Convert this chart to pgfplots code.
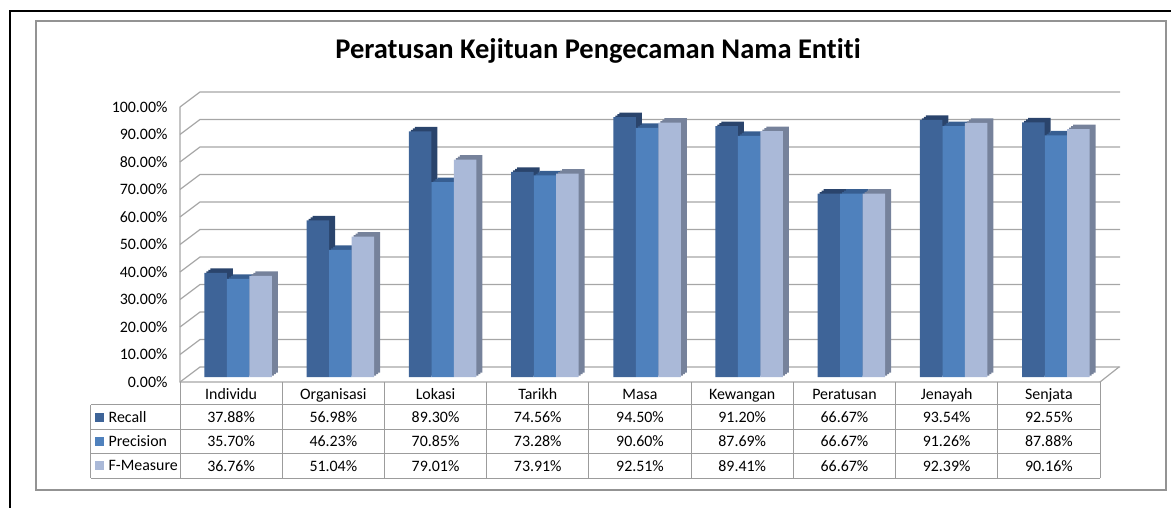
\documentclass[border=0pt]{standalone}
\usepackage{fontspec}
\setmainfont{Carlito}[Ligatures=NoCommon]
\usepackage{pgfplots}
\usepackage{pgfplotstable}
\pgfplotsset{compat=1.18}
\definecolor{recF}{HTML}{3E6498}
\definecolor{recS}{HTML}{2A446C}
\definecolor{preF}{HTML}{4F81BD}
\definecolor{preS}{HTML}{375E91}
\definecolor{fmF}{HTML}{AAB9D8}
\definecolor{fmS}{HTML}{76829B}
\definecolor{gridc}{HTML}{A6A6A6}
\definecolor{tablec}{HTML}{9C9C9C}
\newcommand\tf{\fontsize{15.9}{18}\selectfont}

\pgfplotstableread{
cat R P F
Individu 37.88 35.70 36.76
Organisasi 56.98 46.23 51.04
Lokasi 89.30 70.85 79.01
Tarikh 74.56 73.28 73.91
Masa 94.50 90.60 92.51
Kewangan 91.20 87.69 89.41
Peratusan 66.67 66.67 66.67
Jenayah 93.54 91.26 92.39
Senjata 92.55 87.88 90.16
}\data

\newcommand\threedbar[4]{%
 \addplot[ybar, bar width=22.5pt, bar shift=#2, draw=none, fill=#3, xshift=13pt, yshift=9.5pt] table[x expr=\coordindex+0.5, y=#1]{\data};
 \addplot[ybar, bar width=22.5pt, bar shift=#2, draw=none, fill=#3, xshift=11pt, yshift=8pt] table[x expr=\coordindex+0.5, y=#1]{\data};
 \addplot[ybar, bar width=22.5pt, bar shift=#2, draw=none, fill=#3, xshift=9pt, yshift=6.5pt] table[x expr=\coordindex+0.5, y=#1]{\data};
 \addplot[ybar, bar width=22.5pt, bar shift=#2, draw=none, fill=#4, xshift=7pt, yshift=5pt] table[x expr=\coordindex+0.5, y=#1]{\data};
}
\newcommand\valrow[2]{%
 \addplot[draw=none, mark=none, point meta=explicit symbolic,
   nodes near coords={\pgfplotspointmeta\%},
   nodes near coords style={anchor=center, font=\tf, inner sep=0pt}]
   table[x expr=\coordindex+0.5, y expr=#2, meta=#1]{\data};
}

\begin{document}
\begin{tikzpicture}
\useasboundingbox (0pt,0pt) rectangle (1171pt,507pt);
\draw[line width=2pt] (10pt,-5pt) -- (10pt,496pt) -- (1180pt,496pt);
\draw[gray!85, line width=1.3pt] (36pt,17pt) rectangle (1166pt,486pt);
\node[font=\fontsize{28.5}{31}\selectfont\bfseries] at (598pt,456pt) {Peratusan Kejituan Pengecaman Nama Entiti};
\begin{axis}[at={(180pt,125pt)}, anchor=south west, scale only axis,
  width=920pt, height=275pt, xmin=0, xmax=9, ymin=0, ymax=100, clip=false,
  axis line style={draw=none}, tick style={draw=none},
  ytick={0,10,...,100}, xtick={0.5,1.5,...,8.5},
  xticklabels from table={\data}{cat},
  /pgf/number format/assume math mode=true,
  yticklabel={\pgfmathprintnumber[fixed,zerofill,precision=2]{\tick}\%},
  tick label style={font=\tf},
  yticklabel style={xshift=-9pt},
  xticklabel style={anchor=base, yshift=-17pt, inner sep=0pt},
]
\pgfplotsinvokeforeach{0,10,...,100}{
  \draw[gridc, line width=1.2pt] (axis cs:0,#1) -- ++(20pt,15pt) -- ([xshift=20pt,yshift=15pt]axis cs:9,#1);
}
\draw[gridc, line width=1.2pt] (axis cs:0,100) -- (axis cs:0,0) -- (axis cs:9,0) -- ++(19pt,15pt);

\threedbar{R}{-22.5pt}{recS}{recF}
\threedbar{P}{0pt}{preS}{preF}
\threedbar{F}{22.5pt}{fmS}{fmF}

% data table
\pgfplotsinvokeforeach{-8.36,-17.27,-26.18,-35.09}{
  \draw[tablec, line width=1pt] (axis cs:-0.871,#1) -- (axis cs:9,#1);
}
\draw[tablec, line width=1pt] (axis cs:-0.871,-8.36) -- (axis cs:-0.871,-35.09);
\pgfplotsinvokeforeach{0,...,9}{
  \draw[tablec, line width=1pt] (axis cs:#1,0) -- (axis cs:#1,-35.09);
}
\node[fill=recF, minimum size=9pt, inner sep=0pt] at (axis cs:-0.785,-12.73) {};
\node[fill=preF, minimum size=9pt, inner sep=0pt] at (axis cs:-0.785,-21.6) {};
\node[fill=fmF, minimum size=9pt, inner sep=0pt] at (axis cs:-0.785,-30.5) {};
\node[anchor=west, inner sep=0pt, font=\tf] at (axis cs:-0.70,-12.73) {Recall};
\node[anchor=west, inner sep=0pt, font=\tf] at (axis cs:-0.70,-21.6) {Precision};
\node[anchor=west, inner sep=0pt, font=\tf] at (axis cs:-0.70,-30.5) {F-Measure};

\valrow{R}{-12.73}
\valrow{P}{-21.6}
\valrow{F}{-30.5}
\end{axis}
\end{tikzpicture}
\end{document}
